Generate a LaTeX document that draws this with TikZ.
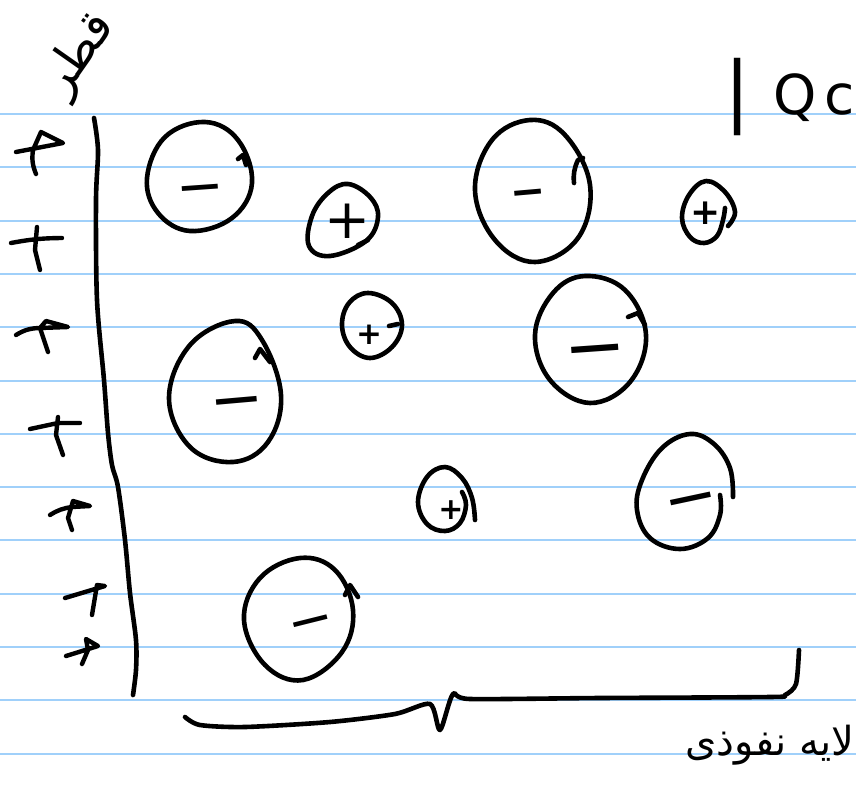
\documentclass[tikz,border=0pt]{standalone}
\usepackage{fontspec}
\setmainfont{DejaVu Sans}
\newfontfamily\arabicfont[Script=Arabic]{DejaVu Sans}
\TeXXeTstate=1
\definecolor{ruleBlue}{RGB}{160,208,250}
\begin{document}
\begin{tikzpicture}[
  x=1pt,y=-1pt,
  pen/.style={line width=4.6pt,line cap=round,line join=round,black},
  tickmark/.style={line width=4.4pt,line cap=round,line join=round,black},
  rul/.style={line width=2pt,ruleBlue},
  sign/.style={inner sep=0pt,font=\fontsize{50}{50}\selectfont},
  boldsign/.style={inner sep=0pt,font=\bfseries\fontsize{50}{50}\selectfont},
  word/.style={inner sep=0pt,font=\arabicfont\fontsize{40}{40}\selectfont}
]
  \useasboundingbox (0,0) rectangle (856,784);
  % ruled paper
  \foreach \r in {0,...,12}
    \draw[rul] (0,114+53.3*\r) -- (856,114+53.3*\r);

  % axes
  \draw[pen] plot[smooth] coordinates {(94,118) (98,150) (96,200) (97,300) (104,380) (108,433)
    (112,465) (118,487) (125,540) (130,593) (136,640) (136,670) (133,695)};
  \draw[pen] plot[smooth,tension=.45] coordinates {(185,717) (200,725) (245,727) (330,722) (395,714)
    (430,704) (440,730) (453,694) (470,699) (600,698) (770,697) (785,695) (796,684) (799,650)};

  % ticks
  \draw[tickmark] (16,152) -- (63,143) -- (41,132) -- (33,150) to[bend right=15] (36,174);
  \draw[tickmark] (11,243) to[bend left=5] (62,238) (37,227) -- (35,250) -- (40,270);
  \draw[tickmark] (16,335) to[bend left=15] (40,328) -- (68,327) -- (46,321) -- (40,328) -- (48,352);
  \draw[tickmark] (30,429) -- (58,423) -- (80,423) (58,417) -- (56,435) -- (63,455);
  \draw[tickmark] (50,515) to[bend left=12] (72,507) -- (90,506) -- (73,501) -- (68,518) -- (72,530);
  \draw[tickmark] (65,598) -- (105,586) -- (97,585) -- (92,615);
  \draw[tickmark] (66,656) -- (98,646) -- (86,639) -- (88,650) -- (82,664);

  % bubbles
  \draw[pen] plot[smooth cycle,tension=.65] coordinates {(205,122) (238,140) (252,183) (232,218) (190,231)
    (158,213) (147,178) (165,137)};
  \draw[pen] (238,159) -- (243,155) -- (246,165);
  \draw[pen] plot[smooth cycle,tension=.65] coordinates {(348,184) (370,197) (378,217) (366,241) (330,256)
    (309,246) (312,216) (328,193)};
  \draw[pen] (358,245) -- (368,240);
  \draw[pen] plot[smooth cycle,tension=.65] coordinates {(530,120) (565,135) (590,185) (578,238) (535,262)
    (495,240) (475,190) (492,140)};
  \draw[pen] (574,183) to[bend left=15] (578,160) -- (583,158);
  \draw[pen] plot[smooth,tension=.65] coordinates {(728,226) (735,212) (725,192) (706,181) (689,195) (682,218)
    (690,237) (704,243) (717,236) (723,220) (725,208)};
  \draw[pen] plot[smooth cycle,tension=.65] coordinates {(368,293) (392,303) (402,325) (392,347) (370,358)
    (350,347) (342,325) (349,303)};
  \draw[pen] (389,326) -- (398,324);
  \draw[pen] plot[smooth cycle,tension=.65] coordinates {(585,276) (625,290) (646,335) (630,382) (590,403)
    (550,380) (535,335) (553,293)};
  \draw[pen] (628,317) -- (638,313) -- (645,325);
  \draw[pen] plot[smooth cycle,tension=.65] coordinates {(235,321) (262,340) (281,395) (268,442) (233,462)
    (190,447) (169,398) (190,345)};
  \draw[pen] (255,358) -- (260,349) -- (270,362);
  \draw[pen] plot[smooth,tension=.65] coordinates {(475,520) (472,498) (462,478) (445,467) (427,477) (418,502)
    (427,524) (445,531) (460,523) (466,505) (462,492)};
  \draw[pen] plot[smooth,tension=.65] coordinates {(733,497) (730,468) (714,444) (690,434) (662,448) (642,480)
    (637,510) (650,538) (680,549) (708,538) (720,515) (720,495)};
  \draw[pen] plot[smooth cycle,tension=.65] coordinates {(300,558) (335,570) (353,610) (342,652) (303,680)
    (265,665) (244,620) (260,578)};
  \draw[pen] (345,595) -- (350,585) -- (358,597);

  % signs
  \node[sign,rotate=4,scale=1.15]    (signa) at (201,196) {−};
  \node[sign,scale=1.1]              (signb) at (348,221) {+};
  \node[boldsign,rotate=5,scale=.85] (signc) at (529,198) {−};
  \node[boldsign,scale=.72]          (signd) at (706,213) {+};
  \node[boldsign,scale=.62]          (signe) at (369,335) {+};
  \node[sign,rotate=4,scale=1.5]     (signf) at (596,359) {−};
  \node[sign,rotate=5,scale=1.3]     (signg) at (238,410) {−};
  \node[boldsign,scale=.6]           (signh) at (451,510) {+};
  \node[sign,rotate=12,scale=1.3]    (signi) at (693,508) {−};
  \node[sign,rotate=14,scale=1.1]    (signj) at (312,628) {−};

  % labels
  \node[word,rotate=55,scale=1.2] (diam) at (80,55) {\beginR قطر\endR};
  \node[word] (layer) at (770,745) {\beginR لایه نفوذی\endR};
  \node[sign,scale=1.55] (bar) at (738,97) {|};
  \node[sign,anchor=west,scale=1.1] (corner) at (773,98) {Q\hspace{.15em}c};
\end{tikzpicture}
\end{document}
